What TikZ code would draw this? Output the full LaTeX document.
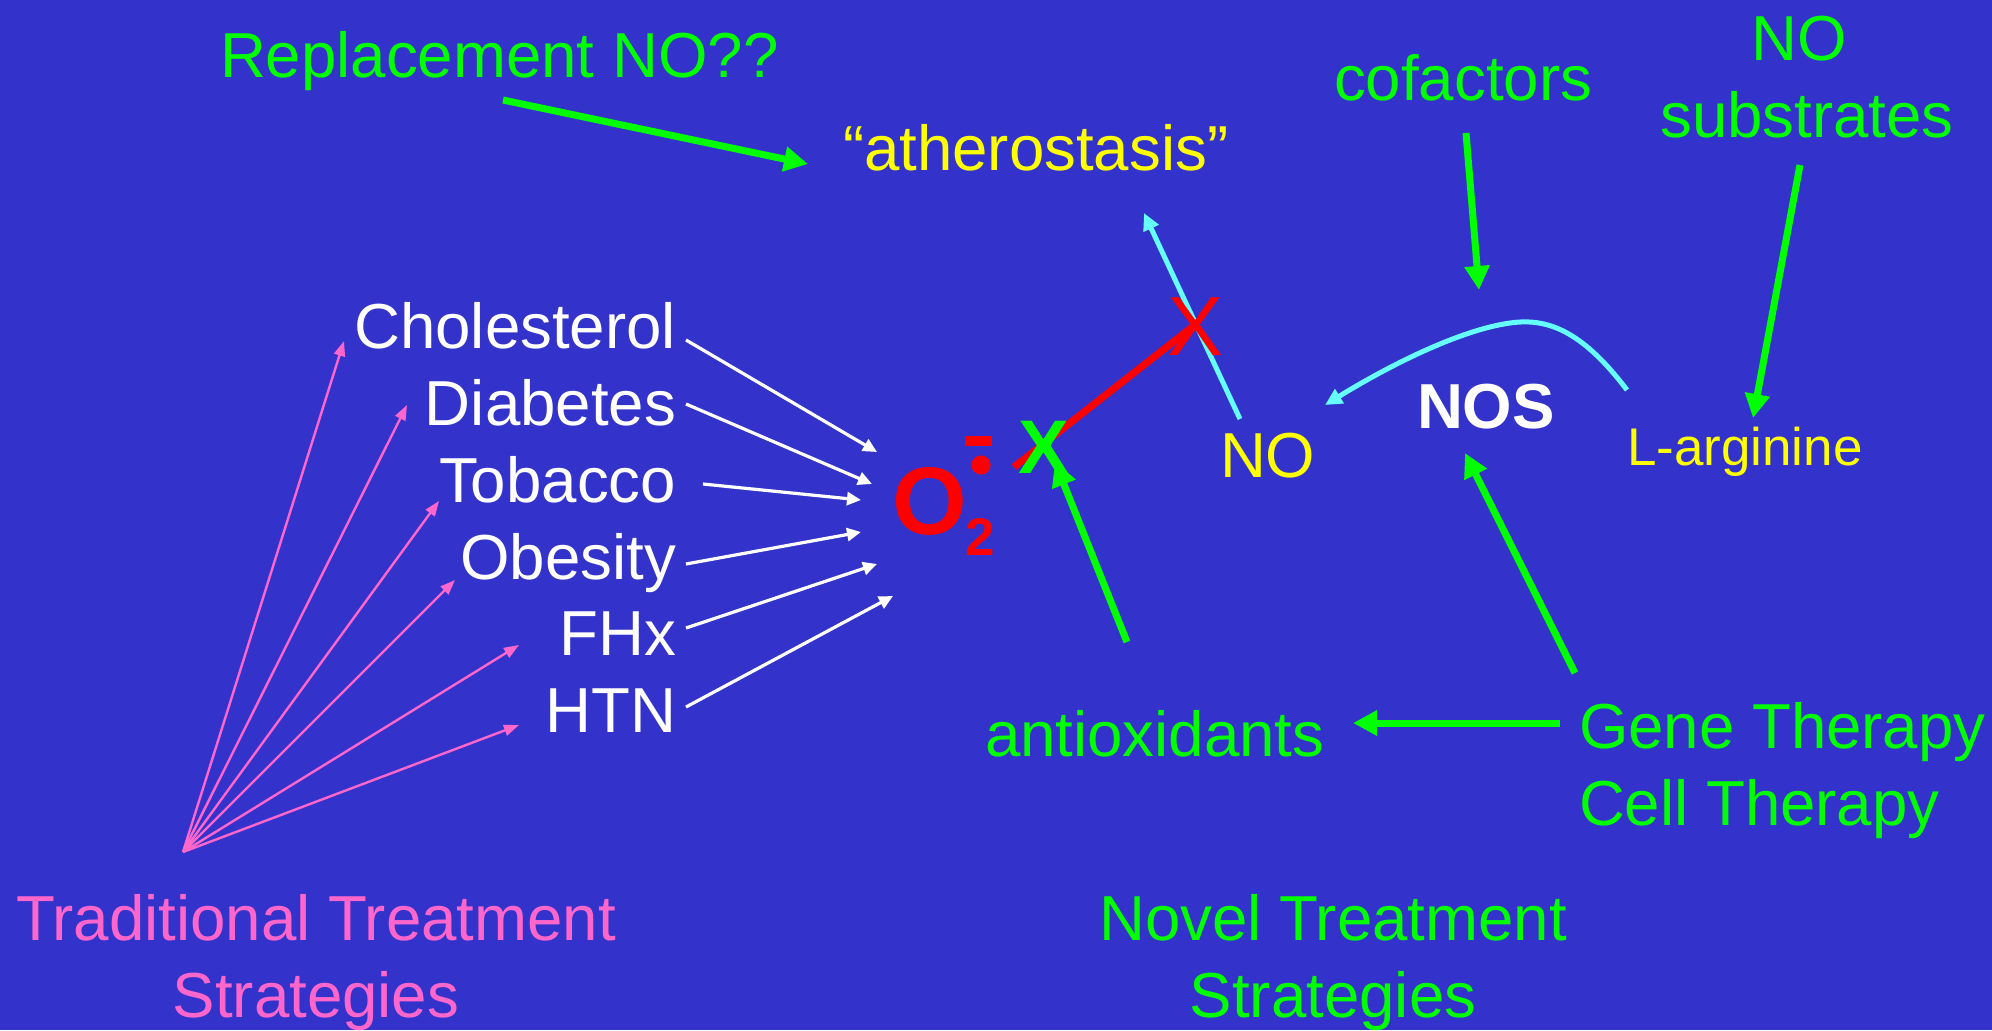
\documentclass[tikz,border=0pt]{standalone}
\usepackage{fontspec}
\setmainfont{Liberation Sans}
\usetikzlibrary{arrows.meta}
\definecolor{bg}{RGB}{51,51,204}
\definecolor{grn}{RGB}{0,255,0}
\definecolor{pnk}{RGB}{255,102,204}
\definecolor{cyn}{RGB}{102,255,255}
\definecolor{ylw}{RGB}{255,255,0}
\definecolor{rd}{RGB}{255,0,0}
\tikzset{
  txt/.style={inner sep=0pt, outer sep=0pt, font=\fontsize{31.8}{38}\selectfont},
  smalltxt/.style={inner sep=0pt, outer sep=0pt, font=\fontsize{26.5}{32}\selectfont},
  garrow/.style={draw=grn, line width=3.5pt, -{Triangle[length=12pt,width=12pt]}},
  carrow/.style={draw=cyn, line width=2.5pt, -{Triangle[length=8.5pt,width=8pt]}},
  warrow/.style={draw=white, line width=1.6pt, -{Triangle[length=7pt,width=6.5pt]}},
  parrow/.style={draw=pnk, line width=1.2pt, -{Triangle[length=7.5pt,width=5.5pt]}},
}
\begin{document}
\begin{tikzpicture}[x=0.5pt,y=-0.5pt]
\fill[bg] (0,0) rectangle (1992,1030);
\useasboundingbox (0,0) rectangle (1992,1030);

% texts
\node[txt, text=grn, anchor=base west] (repl) at (220,77) {Replacement NO??};
\node[txt, text=ylw, anchor=base west] (ath) at (843,170) {“atherostasis”};
\node[txt, text=grn, anchor=base west] (cof) at (1334,100) {cofactors};
\node[txt, text=grn, anchor=base] (nosubA) at (1799,60) {NO};
\node[txt, text=grn, anchor=base] (nosubB) at (1807,137) {substrates};

\node[txt, text=white, anchor=base east] (chol) at (676,348) {Cholesterol};
\node[txt, text=white, anchor=base east] (diab) at (676,425) {Diabetes};
\node[txt, text=white, anchor=base east] (tob) at (676,502) {Tobacco};
\node[txt, text=white, anchor=base east] (obes) at (676,579) {Obesity};
\node[txt, text=white, anchor=base east] (fhx) at (676,655) {FHx};
\node[txt, text=white, anchor=base east] (htn) at (676,732) {HTN};

\node[inner sep=0pt, outer sep=0pt, text=rd, font=\fontsize{48}{52}\selectfont\bfseries, anchor=base west] (oxy) at (892,534) {O};
\node[inner sep=0pt, outer sep=0pt, text=rd, font=\fontsize{26.5}{30}\selectfont\bfseries, anchor=base west] (sub) at (965,555) {2};
\fill[rd] (965,436) rectangle (992,446);
\fill[rd] (981,465) circle (4.8pt);

\node[txt, text=ylw, anchor=base west] (no) at (1220,477) {NO};
\node[txt, text=white, font=\fontsize{31.8}{38}\selectfont\bfseries, anchor=base west] (nos) at (1417,428) {NOS};
\node[smalltxt, text=ylw, anchor=base west] (larg) at (1627,465) {L-arginine};

\node[txt, text=grn, anchor=base west] (anti) at (985,756) {antioxidants};
\node[txt, text=grn, anchor=base west] (gene) at (1579,748) {Gene Therapy};
\node[txt, text=grn, anchor=base west] (cell) at (1579,825) {Cell Therapy};

\node[txt, text=pnk, anchor=base] (tradA) at (316,940) {Traditional Treatment};
\node[txt, text=pnk, anchor=base] (tradB) at (316,1017) {Strategies};
\node[txt, text=grn, anchor=base] (novA) at (1333,940) {Novel Treatment};
\node[txt, text=grn, anchor=base] (novB) at (1333,1017) {Strategies};

% coordinates for connector ends
\coordinate (replS) at (503,100);
\coordinate (replT) at (808,164);
\coordinate (cofS) at (1466,133);
\coordinate (cofT) at (1479,290);
\coordinate (subS) at (1800,165);
\coordinate (subT) at (1753,418);
\coordinate (noS) at (1240,419);
\coordinate (noT) at (1144,213);
\coordinate (argS) at (1627,390);
\coordinate (argT) at (1325,405);
\coordinate (geneS) at (1575,673);
\coordinate (geneT) at (1465,453);
\coordinate (gaS) at (1560,723);
\coordinate (gaT) at (1353,723);
\coordinate (antS) at (1127,642);
\coordinate (antT) at (1055,462);
\coordinate (redS) at (1014,467);
\coordinate (redT) at (1196,324);

\coordinate (cholS) at (686,340);  \coordinate (cholT) at (877,452);
\coordinate (diabS) at (686,404);  \coordinate (diabT) at (872,484);
\coordinate (tobS) at (703,484);   \coordinate (tobT) at (861,500);
\coordinate (obesS) at (686,564);  \coordinate (obesT) at (861,532);
\coordinate (fhxS) at (686,628);   \coordinate (fhxT) at (877,564);
\coordinate (htnS) at (686,707);   \coordinate (htnT) at (893,596);

\coordinate (porig) at (183,852);
\coordinate (p1) at (344,341);
\coordinate (p2) at (407,405);
\coordinate (p3) at (439,501);
\coordinate (p4) at (455,580);
\coordinate (p5) at (519,645);
\coordinate (p6) at (519,725);

% connectors
\draw[garrow] (replS) -- (replT);
\draw[garrow] (cofS) -- (cofT);
\draw[garrow] (subS) -- (subT);
\draw[garrow] (geneS) -- (geneT);
\draw[garrow] (gaS) -- (gaT);
\draw[garrow] (antS) -- (antT);
\draw[carrow] (noS) -- (noT);
\draw[carrow] (argS) .. controls (1580,328) and (1545,318) .. (1510,323)
                     .. controls (1460,330) and (1390,365) .. (argT);
\draw[rd, line width=3.6pt] (redS) -- (redT);

\draw[warrow] (cholS) -- (cholT);
\draw[warrow] (diabS) -- (diabT);
\draw[warrow] (tobS) -- (tobT);
\draw[warrow] (obesS) -- (obesT);
\draw[warrow] (fhxS) -- (fhxT);
\draw[warrow] (htnS) -- (htnT);

\foreach \p in {p1,p2,p3,p4,p5,p6} \draw[parrow] (porig) -- (\p);

% X marks
\node[inner sep=0pt, outer sep=0pt, text=grn, font=\fontsize{38}{40}\selectfont\bfseries, anchor=base] (gx) at (1044,473) {X};
\node[inner sep=0pt, outer sep=0pt, text=rd, font=\fontsize{42}{46}\selectfont, anchor=base] (rx) at (1195,355) {X};
\end{tikzpicture}
\end{document}
